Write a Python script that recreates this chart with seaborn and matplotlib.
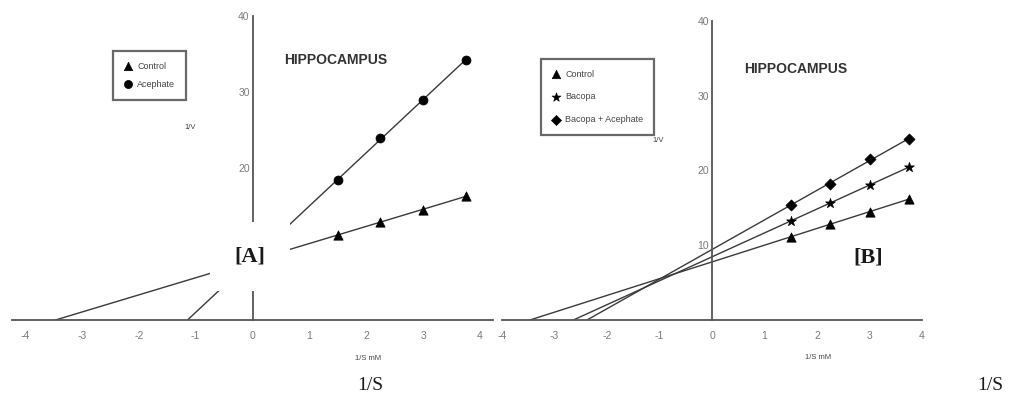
import numpy as np
import matplotlib
matplotlib.use("Agg")
import matplotlib.pyplot as plt
import seaborn as sns

# Lineweaver-Burk data
inv_s = [1.5, 2.25, 3.0, 3.75]

a_control = [11.2, 12.9, 14.5, 16.3]
a_acephate = [18.4, 23.9, 29.0, 34.2]

b_control = [11.1, 12.9, 14.4, 16.2]
b_bacopa = [13.3, 15.6, 18.0, 20.5]
b_bacopa_acephate = [15.4, 18.2, 21.5, 24.2]

x_ticks = [-4, -3, -2, -1, 0, 1, 2, 3, 4]
a_y_ticks = [20, 30, 40]        # the 10 label sits under the [A] box
b_y_ticks = [10, 20, 30, 40]

LINE = "#3a3a3a"
SPINE = "#555555"
TICK_TXT = "#7a7a7a"


def draw_series(ax, yvals, marker, size, label):
    # regression line extended back to the x-intercept
    slope, icpt = np.polyfit(inv_s, yvals, 1)
    x0 = -icpt / slope
    ax.plot([x0, max(inv_s)], [0, slope * max(inv_s) + icpt],
            color=LINE, lw=1.0, zorder=2)
    sns.scatterplot(x=inv_s, y=yvals, marker=marker, s=size, color="black",
                    edgecolor="black", linewidth=0.5, label=label, ax=ax, zorder=3)


def style_axes(ax, xlim, yticks):
    ax.set_xlim(*xlim)
    ax.set_ylim(0, 40)
    ax.spines["left"].set_position(("data", 0))
    for side in ["top", "right"]:
        ax.spines[side].set_visible(False)
    for side in ["left", "bottom"]:
        ax.spines[side].set_color(SPINE)
        ax.spines[side].set_linewidth(1.3)
    ax.set_xticks(x_ticks)
    ax.set_yticks(yticks)
    ax.tick_params(axis="x", direction="in", length=5, width=0.8, color=SPINE,
                   labelsize=7.5, labelcolor=TICK_TXT, pad=8)
    ax.tick_params(axis="y", direction="in", length=3, width=0.8, color=SPINE,
                   labelsize=7.5, labelcolor=TICK_TXT, pad=2)
    ax.set_xlabel("")
    ax.set_ylabel("")
    ax.patch.set_alpha(0)


def legend(ax, anchor, spacing, pad):
    leg = ax.legend(loc="upper left", bbox_to_anchor=anchor, borderaxespad=0,
                    fontsize=6.5, frameon=True, fancybox=False, handletextpad=0.5,
                    labelspacing=spacing, borderpad=pad, markerscale=0.9,
                    handlelength=1.0)
    leg.get_frame().set_edgecolor("#444444")
    leg.get_frame().set_linewidth(1.6)
    for t in leg.get_texts():
        t.set_color("#444444")


sns.set_theme(style="white")
plt.rcParams["font.family"] = ["Liberation Sans", "DejaVu Sans"]
plt.rcParams["axes.unicode_minus"] = False

fig = plt.figure(figsize=(10.09, 3.96), dpi=100)
ax_a = fig.add_axes([12 / 1009, 76 / 396, 481 / 1009, 304 / 396])
ax_b = fig.add_axes([502 / 1009, 76 / 396, 420 / 1009, 299 / 396])

# ---- Panel A ----
draw_series(ax_a, a_control, "^", 45, "Control")
draw_series(ax_a, a_acephate, "o", 42, "Acephate")
style_axes(ax_a, (-4.23, 4.23), a_y_ticks)
legend(ax_a, (0.21, 0.885), 1.0, 1.2)
ax_a.text(1.46, 34.2, "HIPPOCAMPUS", fontsize=10, fontweight="bold",
          color="#333333", ha="center", va="center")
ax_a.text(-1.09, 25.3, "1/V", fontsize=5.5, color="#444444", ha="center", va="center")
ax_a.text(2.03, -5.0, "1/S mM", fontsize=5.5, color="#444444", ha="center",
          va="center", clip_on=False)
ax_a.text(-0.05, 8.4, "[A]", fontsize=16, fontweight="bold", family="Liberation Serif",
          color="#1a1a1a", ha="center", va="center", zorder=10,
          bbox=dict(boxstyle="square,pad=1.1", facecolor="white", edgecolor="none"))

# ---- Panel B ----
draw_series(ax_b, b_control, "^", 45, "Control")
draw_series(ax_b, b_bacopa, "*", 55, "Bacopa")
draw_series(ax_b, b_bacopa_acephate, "D", 32, "Bacopa + Acephate")
style_axes(ax_b, (-4.0, 4.0), b_y_ticks)
legend(ax_b, (0.093, 0.873), 1.5, 1.2)
ax_b.text(1.6, 33.6, "HIPPOCAMPUS", fontsize=10, fontweight="bold",
          color="#333333", ha="center", va="center")
ax_b.text(-1.03, 24.0, "1/V", fontsize=5.5, color="#444444", ha="center", va="center")
ax_b.text(2.02, -5.0, "1/S mM", fontsize=5.5, color="#444444", ha="center",
          va="center", clip_on=False)
ax_b.text(2.97, 8.4, "[B]", fontsize=16, fontweight="bold", family="Liberation Serif",
          color="#1a1a1a", ha="center", va="center", zorder=10)

# big axis captions below each panel
fig.text(370 / 1009, 11 / 396, "1/S", fontsize=14, family="Liberation Serif",
         color="#1a1a1a", ha="center", va="center")
fig.text(990 / 1009, 11 / 396, "1/S", fontsize=14, family="Liberation Serif",
         color="#1a1a1a", ha="center", va="center")

fig.savefig("out.png", dpi=100, facecolor="white")
